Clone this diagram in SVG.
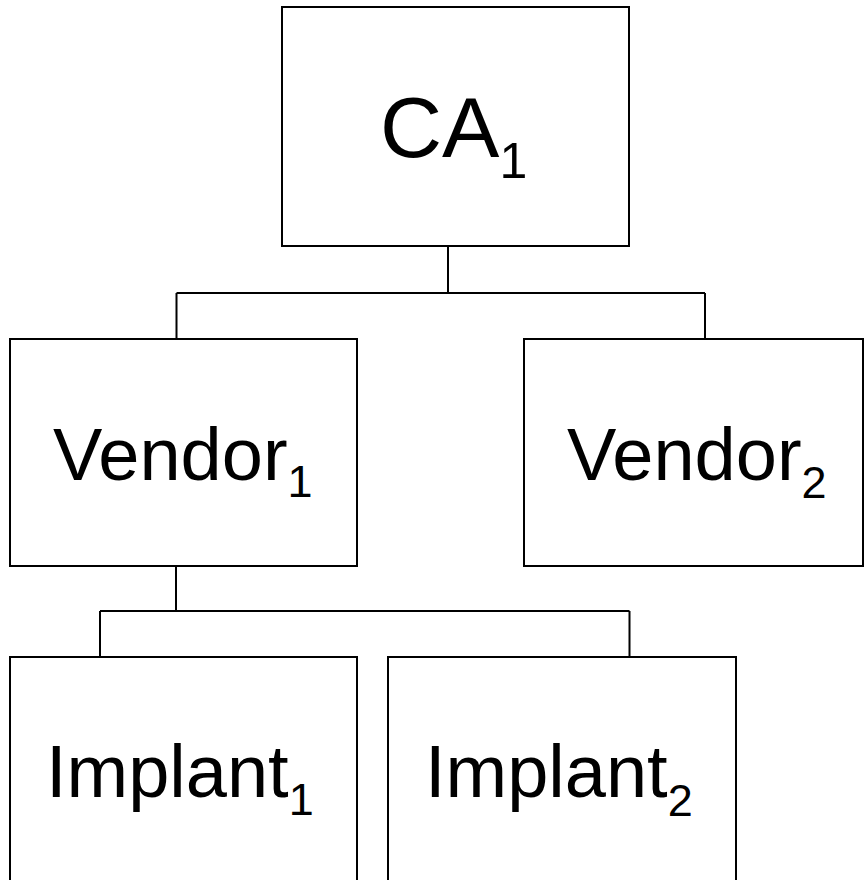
<svg xmlns="http://www.w3.org/2000/svg" width="865" height="880" viewBox="0 0 865 880">
  <style>
    .box { fill: #ffffff; stroke: #000000; stroke-width: 2; }
    .wire { fill: none; stroke: #000000; stroke-width: 2; }
    .lbl { font-family: "Liberation Sans", Arial, sans-serif; fill: #000000; }
  </style>
  <rect width="865" height="880" fill="#ffffff"/>

  <!-- tree connectors -->
  <g id="connectors">
    <path class="wire" d="M448,246 V293 M176.5,293 H705 M176.5,293 V339 M705,293 V339"/>
    <path class="wire" d="M176,566 V611 M100,611 H629.5 M100,611 V657 M629.5,611 V657"/>
  </g>

  <g id="ca1">
    <rect class="box" x="282" y="7" width="347" height="239"/>
    <text class="lbl" x="380" y="157" font-size="86">CA<tspan font-size="50" dy="21">1</tspan></text>
  </g>

  <g id="vendor1">
    <rect class="box" x="10" y="339" width="347" height="227"/>
    <text class="lbl" x="53" y="480" font-size="74">Vendor<tspan font-size="45" dy="17">1</tspan></text>
  </g>

  <g id="vendor2">
    <rect class="box" x="524" y="339" width="339" height="227"/>
    <text class="lbl" x="567" y="480" font-size="74">Vendor<tspan font-size="45" dy="18">2</tspan></text>
  </g>

  <g id="implant1">
    <rect class="box" x="10" y="657" width="347" height="240"/>
    <text class="lbl" x="46" y="797" font-size="74">Implant<tspan font-size="45" dy="18">1</tspan></text>
  </g>

  <g id="implant2">
    <rect class="box" x="388" y="657" width="348" height="240"/>
    <text class="lbl" x="425" y="797" font-size="74">Implant<tspan font-size="45" dy="19">2</tspan></text>
  </g>
</svg>
